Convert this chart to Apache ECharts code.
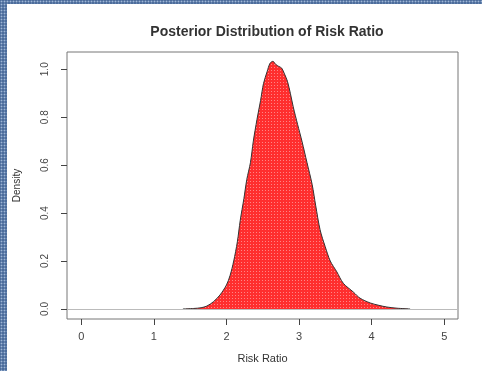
<!DOCTYPE html>
<html>
<head>
<meta charset="utf-8">
<script src="https://cdn.jsdelivr.net/npm/echarts@6/dist/echarts.min.js"></script>
<style>
html,body{margin:0;padding:0;width:482px;height:371px;overflow:hidden;}
body{background:#4d6d9c;background-image:radial-gradient(circle,#9fb6d6 0.8px,transparent 1.1px);background-size:3px 3px;}
#main{position:absolute;left:7px;top:4px;width:475px;height:367px;background:#fff;}
</style>
</head>
<body>
<div id="main"></div>
<script>
// Risk ratio values (x) and posterior density (y)
var riskRatio = [1.40,1.55,1.65,1.73,1.82,1.91,2.00,2.05,2.10,2.15,2.19,2.24,2.28,2.33,2.37,2.42,2.47,2.51,2.56,2.60,2.64,2.68,2.72,2.76,2.80,2.84,2.88,2.92,2.98,3.04,3.11,3.18,3.23,3.29,3.36,3.43,3.52,3.61,3.75,3.84,3.98,4.10,4.21,4.35,4.53];
var density   = [0,0.002,0.005,0.012,0.03,0.058,0.10,0.14,0.20,0.28,0.37,0.46,0.54,0.61,0.70,0.79,0.87,0.94,0.99,1.025,1.033,1.02,1.012,1.005,0.98,0.95,0.90,0.843,0.77,0.70,0.61,0.52,0.43,0.33,0.26,0.20,0.155,0.107,0.07,0.045,0.025,0.015,0.008,0.003,0];
var xTicks = [0,1,2,3,4,5];
var yTicks = [0,0.2,0.4,0.6,0.8,1.0];
var yTickLabels = ['0.0','0.2','0.4','0.6','0.8','1.0'];

var points = riskRatio.map(function(x,i){return [x,density[i]];});
var chart = echarts.init(document.getElementById('main'));
var font = 'Liberation Sans, Arial, sans-serif';
chart.setOption({
  animation:false,
  title:{text:'Posterior Distribution of Risk Ratio',left:255,top:16,textAlign:'center',
    textStyle:{fontFamily:font,fontSize:14,fontWeight:'bold',color:'#333'}},
  grid:{left:60,top:48,right:24,bottom:52,show:true,borderColor:'#777',borderWidth:1,backgroundColor:'transparent',
    containLabel:false,outerBoundsMode:'none'},
  xAxis:{type:'value',min:-0.197,max:5.19,
    name:'Risk Ratio',nameLocation:'middle',nameGap:34,
    nameTextStyle:{fontFamily:font,fontSize:11,color:'#333'},
    axisLine:{show:false,onZero:false},
    axisTick:{show:true,length:6,lineStyle:{color:'#444'},customValues:xTicks},
    axisLabel:{fontFamily:font,fontSize:11,color:'#444',margin:12,customValues:xTicks},
    splitLine:{show:false}},
  yAxis:{type:'value',min:-0.042,max:1.072,
    name:'Density',nameLocation:'middle',nameGap:45,
    nameTextStyle:{fontFamily:font,fontSize:10,color:'#333'},
    axisLine:{show:false,onZero:false},
    axisTick:{show:true,length:6,lineStyle:{color:'#444'},customValues:yTicks},
    axisLabel:{fontFamily:font,fontSize:10,color:'#444',margin:17,rotate:90,
      customValues:yTicks,formatter:function(v){return yTickLabels[yTicks.indexOf(Math.round(v*10)/10)]||v.toFixed(1);}},
    splitLine:{show:false}},
  series:[{
    type:'line',data:points,smooth:0.3,showSymbol:false,symbol:'none',
    lineStyle:{color:'#333',width:1},
    itemStyle:{color:'#ff2e2e',decal:{symbol:'rect',symbolSize:1,color:'rgba(255,170,170,0.7)',dashArrayX:[1,2],dashArrayY:[1,2],rotation:0}},
    areaStyle:{color:'#ff2e2e',opacity:1},
    markLine:{silent:true,symbol:'none',label:{show:false},lineStyle:{color:'#bbb',width:1,type:'solid'},data:[{yAxis:0}]},
    z:2
  }]
});
</script>
</body>
</html>
